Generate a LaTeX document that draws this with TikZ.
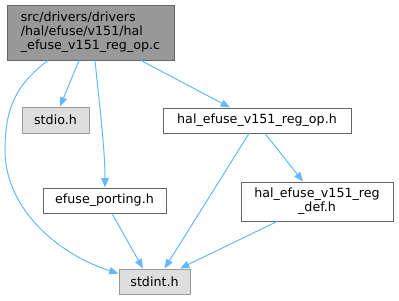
\documentclass[tikz,border=0pt]{standalone}
\usepackage{fontspec}
\setmainfont{DejaVu Sans}
\usetikzlibrary{arrows.meta,calc}
\definecolor{edgec}{HTML}{63B8FF}
\definecolor{grey40}{HTML}{666666}
\definecolor{grey60}{HTML}{999999}
\definecolor{grey87}{HTML}{DEDEDE}
\begin{document}
\begin{tikzpicture}[x=0.75pt,y=-0.75pt,
  box/.style={draw=grey40,fill=white,line width=0.75pt,inner sep=0pt,font=\fontsize{9.5}{10.4}\selectfont},
  sysbox/.style={box,draw=grey60,fill=grey87},
  mainbox/.style={box,fill=grey60},
  edge/.style={draw=edgec,line width=0.75pt,-{Triangle[length=7pt,width=5.5pt]}}]
\useasboundingbox (0,0) rectangle (399,300);
\node[mainbox,minimum width=167*0.75pt,minimum height=55*0.75pt,align=left] (main) at (90.5,32.5) {src/drivers/drivers\\/hal/efuse/v151/hal\\\_efuse\_v151\_reg\_op.c};
\node[sysbox,minimum width=67*0.75pt,minimum height=26*0.75pt] (stdio) at (55.5,120) {stdio.h};
\node[box,minimum width=188*0.75pt,minimum height=25*0.75pt] (regop) at (257,120.5) {hal\_efuse\_v151\_reg\_op.h};
\node[box,minimum width=152*0.75pt,minimum height=39*0.75pt,align=center] (regdef) at (317,201.5) {hal\_efuse\_v151\_reg\\\_def.h};
\node[box,minimum width=123*0.75pt,minimum height=25*0.75pt] (port) at (104.5,200.5) {efuse\_porting.h};
\node[sysbox,minimum width=71*0.75pt,minimum height=25*0.75pt] (stdint) at (154.5,281.5) {stdint.h};
\draw[edge] ($(main.south)+(-42.5,0)$) .. controls (15,85) and (5,110) .. (5,150) .. controls (5,210) and (60,255) .. ($(stdint.west)+(0,-8)$);
\draw[edge] ($(main.south)+(-11.5,0)$) -- ($(stdio.north)+(4.5,0)$);
\draw[edge] ($(main.south)+(4.5,0)$) .. controls (100,110) and (105,150) .. ($(port.north)+(0.5,0)$);
\draw[edge] ($(main.south)+(50.5,0)$) -- ($(regop.north)+(-27,0)$);
\draw[edge] ($(regop.south)+(-8,0)$) -- ($(stdint.north)+(10,0)$);
\draw[edge] ($(regop.south)+(8,0)$) -- ($(regdef.north)+(-14,0)$);
\draw[edge] ($(regdef.south)+(-40,0)$) -- ($(stdint.north)+(25.5,0)$);
\draw[edge] ($(port.south)+(7.5,0)$) -- ($(stdint.north)+(-11.5,0)$);
\end{tikzpicture}
\end{document}
